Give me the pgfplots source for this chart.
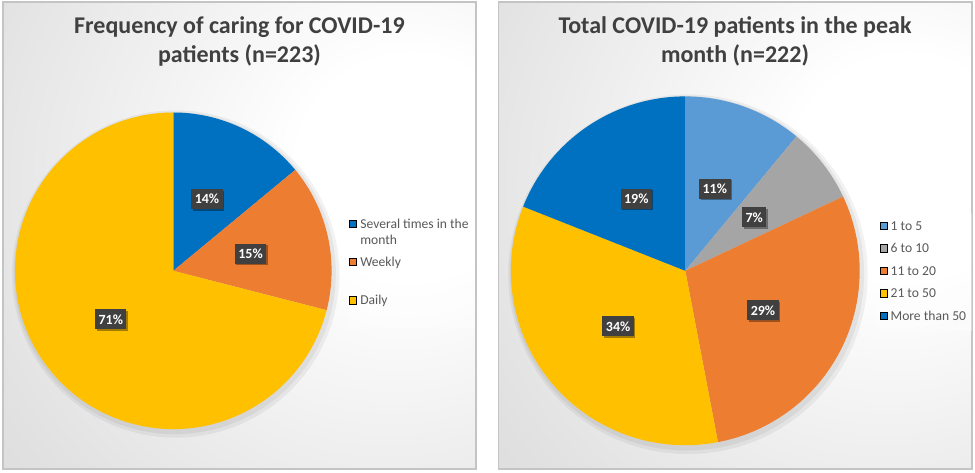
\documentclass[border=0pt]{standalone}
\usepackage{pgfplots}
\pgfplotsset{compat=1.18}
\usepackage{pgfplotstable}
\usepackage{fontspec}
\setmainfont{Carlito}
\usetikzlibrary{shadows}

\definecolor{cblue}{HTML}{0070C0}
\definecolor{corange}{HTML}{ED7D31}
\definecolor{cyellow}{HTML}{FFC000}
\definecolor{clblue}{HTML}{5B9BD5}
\definecolor{cgray}{HTML}{A5A5A5}
\definecolor{titlegray}{HTML}{404040}
\definecolor{leggray}{HTML}{595959}
\definecolor{boxgray}{HTML}{404040}
\definecolor{edgegray}{HTML}{C4C4C4}

% Frequency of caring for COVID-19 patients (n=223), percent
\pgfplotstableread{
value color
14 cblue
15 corange
71 cyellow
}\freqtable

% Total COVID-19 patients in the peak month (n=222), percent
\pgfplotstableread{
value color
11 clblue
7 cgray
29 corange
34 cyellow
19 cblue
}\peaktable

\pgfdeclareradialshading{panelshade}{\pgfpoint{20bp}{8bp}}{%
  color(0bp)=(white); color(12bp)=(white); color(45bp)=(black!12);
  color(80bp)=(black!21); color(130bp)=(black!24)}

\tikzset{pielabel/.style={fill=boxgray, text=white,
    font=\fontsize{10.5}{12}\selectfont\bfseries,
    inner xsep=2.6pt, inner ysep=0pt, minimum height=15pt,
    drop shadow={shadow xshift=1.1pt, shadow yshift=-1.1pt, opacity=0.35, fill=black}}}

% draws the wedges (clockwise from 12 o'clock) and the labels of a table
\newcommand\drawpie[1]{%
  \pgfplotstablegetrowsof{#1}%
  \pgfmathtruncatemacro\nlast{\pgfplotsretval-1}%
  \xdef\curangle{90}%
  \pgfplotsforeachungrouped \i in {0,...,\nlast}{%
    \pgfplotstablegetelem{\i}{value}\of{#1}\let\val\pgfplotsretval
    \pgfplotstablegetelem{\i}{color}\of{#1}\let\col\pgfplotsretval
    \pgfmathsetmacro\endangle{\curangle-3.6*\val}%
    \edef\cmd{\noexpand\fill[\col] (axis cs:0,0) -- (axis cs:{cos(\curangle)},{sin(\curangle)})
      arc[start angle=\curangle, end angle=\endangle, radius=\pieR] -- cycle;}%
    \cmd
    \xdef\curangle{\endangle}%
  }%
  \xdef\curangle{90}%
  \pgfplotsforeachungrouped \i in {0,...,\nlast}{%
    \pgfplotstablegetelem{\i}{value}\of{#1}\let\val\pgfplotsretval
    \pgfmathsetmacro\endangle{\curangle-3.6*\val}%
    \pgfmathsetmacro\midangle{(\curangle+\endangle)/2}%
    \edef\cmd{\noexpand\node[pielabel] at (axis cs:{0.5*cos(\midangle)},{0.5*sin(\midangle)}) {\val\noexpand\%};}%
    \cmd
    \xdef\curangle{\endangle}%
  }%
}

\pgfplotsset{piestyle/.style={
    hide axis, clip=false, anchor=center,
    xmin=-1, xmax=1, ymin=-1, ymax=1,
    legend cell align=left,
    legend style={anchor=north west, draw=none, fill=white, fill opacity=0.35,
      text opacity=1, inner sep=2pt, row sep=0pt,
      font=\fontsize{10.2}{12}\selectfont, text=leggray},
    legend image code/.code={\fill[##1, fill opacity=1] (0pt,0.5pt) rectangle (5.4pt,5.9pt);},
}}

\begin{document}
\begin{tikzpicture}
\useasboundingbox (0,0) rectangle (731.25pt,-354.75pt);
% panels
\path[shading=panelshade] (2.25pt,-1.5pt) rectangle (357pt,-351.75pt);
\draw[edgegray, line width=1pt] (2.25pt,-1.5pt) rectangle (357pt,-351.75pt);
\path[shading=panelshade] (374pt,-1.5pt) rectangle (729pt,-351.75pt);
\draw[edgegray, line width=1pt] (374pt,-1.5pt) rectangle (729pt,-351.75pt);

% titles
\node[anchor=base, text=titlegray, font=\fontsize{18}{21.75}\selectfont\bfseries] at (179.6pt,-25.5pt) {Frequency of caring for COVID-19};
\node[anchor=base, text=titlegray, font=\fontsize{18}{21.75}\selectfont\bfseries] at (179.6pt,-47.25pt) {patients (n=223)};
\node[anchor=base, text=titlegray, font=\fontsize{18}{21.75}\selectfont\bfseries] at (551.25pt,-25.5pt) {Total COVID-19 patients in the peak};
\node[anchor=base, text=titlegray, font=\fontsize{18}{21.75}\selectfont\bfseries] at (551.25pt,-47.25pt) {month (n=222)};

% left pie
\def\pieR{118.725pt}
\begin{axis}[piestyle, x=118.725pt, y=118.725pt, at={(129.975pt,-203.1pt)},
    legend style={at={(1.0465,0.6996)},
      nodes={anchor=base west, inner xsep=2.5pt, inner ysep=0pt, text height=13.1pt, text depth=15.6pt}}]
  \fill[black, opacity=0.05] (axis cs:0.015,-0.02) circle[radius=\pieR+4pt];
  \fill[black, opacity=0.05] (axis cs:0.01,-0.015) circle[radius=\pieR+2pt];
  \drawpie{\freqtable}
  \addlegendimage{fill=cblue}
  \addlegendentry{\begin{tabular}[t]{@{}l@{}}Several times in the\\month\end{tabular}}
  \addlegendimage{fill=corange}
  \addlegendentry{Weekly}
  \addlegendimage{fill=cyellow}
  \addlegendentry{Daily}
\end{axis}

% right pie
\def\pieR{130.8pt}
\begin{axis}[piestyle, x=130.8pt, y=130.8pt, at={(513.975pt,-203.1pt)},
    legend style={at={(1.0485,0.6666)},
      nodes={anchor=base west, inner xsep=2.5pt, inner ysep=0pt, text height=10.875pt, text depth=6pt}}]
  \fill[black, opacity=0.05] (axis cs:0.015,-0.02) circle[radius=\pieR+4pt];
  \fill[black, opacity=0.05] (axis cs:0.01,-0.015) circle[radius=\pieR+2pt];
  \drawpie{\peaktable}
  \addlegendimage{fill=clblue}
  \addlegendentry{1 to 5}
  \addlegendimage{fill=cgray}
  \addlegendentry{6 to 10}
  \addlegendimage{fill=corange}
  \addlegendentry{11 to 20}
  \addlegendimage{fill=cyellow}
  \addlegendentry{21 to 50}
  \addlegendimage{fill=cblue}
  \addlegendentry{More than 50}
\end{axis}
\end{tikzpicture}
\end{document}
